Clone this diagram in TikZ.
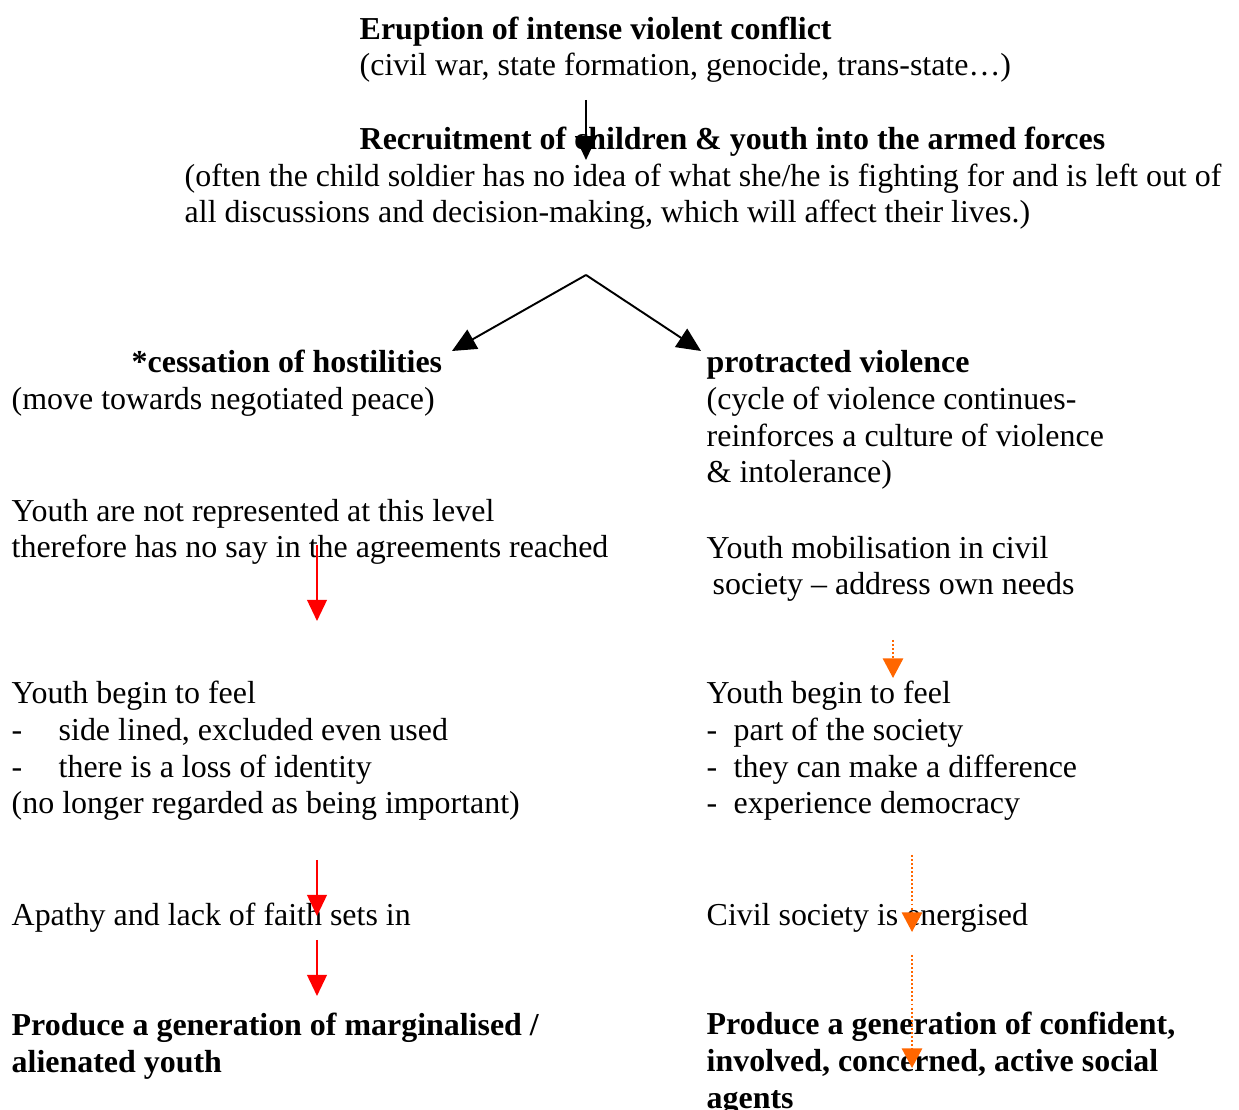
\documentclass[tikz,border=0pt]{standalone}
\usepackage{fontspec}
\setmainfont{Liberation Serif}
\definecolor{arrowred}{HTML}{FF0000}
\definecolor{arroworange}{HTML}{FF6600}
\usepackage{tikz}
\usetikzlibrary{arrows.meta,positioning,calc}

% text blocks are placed at the baseline of their last line
\tikzset{
  txt/.style={anchor=base west, inner sep=0pt, align=left, yshift=-0.02cm,
    font=\fontsize{9.08}{10.44}\selectfont},
  blackarrow/.style={draw=black, line width=0.55pt, -{Triangle[width=6.2pt,length=6.8pt]}},
  redarrow/.style={draw=arrowred, line width=0.55pt, -{Triangle[width=5.6pt,length=6pt]}},
  orangearrow/.style={draw=arroworange, line width=0.55pt, dash pattern=on 0.55pt off 0.6pt,
    -{Triangle[width=5.8pt,length=5.6pt,sep=0pt]}}
}
\newcommand{\dashitem}[2]{\makebox[#1][l]{-}#2}

\begin{document}
\begin{tikzpicture}[x=0.01cm,y=-0.01cm]
\useasboundingbox (0,0) rectangle (1239,1110);

% Top of the chain
\node[txt] (erupt) at (359,74) {\textbf{Eruption of intense violent conflict}\\(civil war, state formation, genocide, trans-state\dots)};
\node[txt] (recruit) at (359,148) {\textbf{Recruitment of children \& youth into the armed forces}};
\node[txt] (recruitnote) at (184,221) {(often the child soldier has no idea of what she/he is fighting for and is left out of\\all discussions and decision-making, which will affect their lives.)};

% Two branches
\node[txt] (cess) at (131,371) {\textbf{*cessation of hostilities}};
\node[txt] (cessnote) at (11,408) {(move towards negotiated peace)};
\node[txt] (protr) at (706,481) {\textbf{protracted violence}\\(cycle of violence continues-\\reinforces a culture of violence\\\& intolerance)};

% Left column
\node[txt] (notrep) at (11,556) {Youth are not represented at this level\\therefore has no say in the agreements reached};
\node[txt] (feelL) at (11,812) {Youth begin to feel\\\dashitem{0.47cm}{side lined, excluded even used}\\\dashitem{0.47cm}{there is a loss of identity}\\(no longer regarded as being important)};
\node[txt] (apathy) at (11,923) {Apathy and lack of faith sets in};
\node[txt] (margin) at (11,1070) {\textbf{Produce a generation of marginalised /}\\\textbf{alienated youth}};

% Right column
\node[txt] (mobil) at (706,593) {Youth mobilisation in civil\\\hspace{0.06cm}society -- address own needs};
\node[txt] (feelR) at (706,812) {Youth begin to feel\\\dashitem{0.27cm}{part of the society}\\\dashitem{0.27cm}{they can make a difference}\\\dashitem{0.27cm}{experience democracy}};
\node[txt] (energ) at (706,923) {Civil society is energised};
\node[txt] (confid) at (706,1106) {\textbf{Produce a generation of confident,}\\\textbf{involved, concerned, active social}\\\textbf{agents}};

% Arrow end points
\coordinate (k1s) at (586,100);  \coordinate (k1e) at (586,160);
\coordinate (apex) at (586,275);
\coordinate (kL) at (452,351);   \coordinate (kR) at (701,351);
\coordinate (r1s) at (317,545);  \coordinate (r1e) at (317,621);
\coordinate (r2s) at (317,860);  \coordinate (r2e) at (317,916);
\coordinate (r3s) at (317,940);  \coordinate (r3e) at (317,996);
\coordinate (o1s) at (893,640);  \coordinate (o1e) at (893,678);
\coordinate (o2s) at (912,855);  \coordinate (o2e) at (912,932);
\coordinate (o3s) at (912,955);  \coordinate (o3e) at (912,1068);

% Arrows
\draw[blackarrow] (k1s) -- (k1e);
\draw[blackarrow] (apex) -- (kL);
\draw[blackarrow] (apex) -- (kR);
\foreach \a/\b in {r1s/r1e, r2s/r2e, r3s/r3e}
  \draw[redarrow] (\a) -- (\b);
\foreach \a/\b in {o1s/o1e, o2s/o2e, o3s/o3e}
  \draw[orangearrow] (\a) -- (\b);
\end{tikzpicture}
\end{document}
